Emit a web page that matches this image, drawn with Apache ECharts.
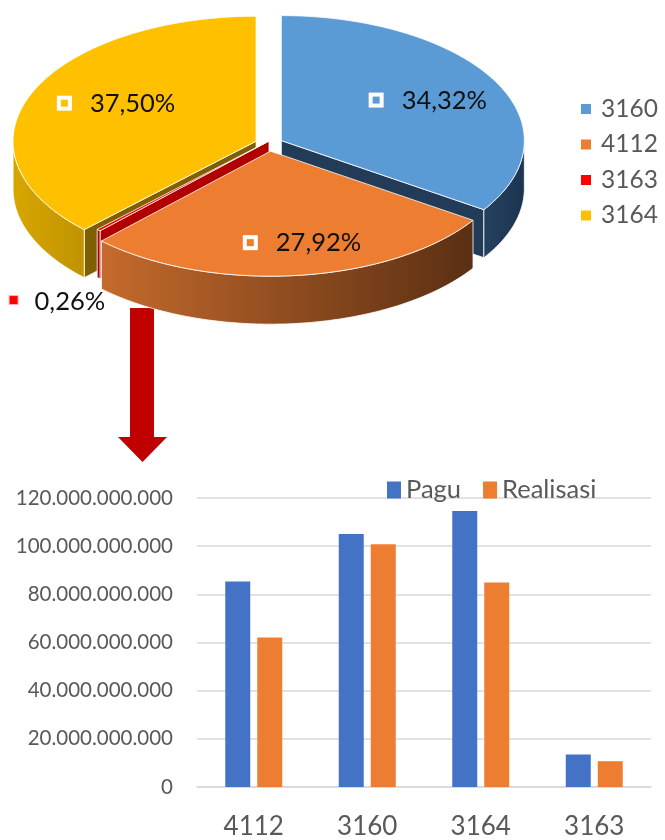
<!DOCTYPE html>
<html><head><meta charset="utf-8">
<script src="https://cdn.jsdelivr.net/npm/echarts@6.0.0/dist/echarts.min.js"></script>
<style>html,body{margin:0;padding:0;background:#fff}#c{width:665px;height:840px}</style>
</head><body><div id="c"></div>
<script>
// ---------- data ----------
const pieCategories = ['3160', '4112', '3163', '3164'];
const pieShares = [34.32, 27.92, 0.26, 37.50];
const pieLabels = ['34,32%', '27,92%', '0,26%', '37,50%'];

const barCategories = ['4112', '3160', '3164', '3163'];
const paguValues = [85.3e9, 105.1e9, 114.6e9, 13.5e9];
const realisasiValues = [62.1e9, 100.8e9, 84.9e9, 10.7e9];
const barSeriesNames = ['Pagu', 'Realisasi'];

const yMin = 0, yMax = 120e9, yStep = 20e9;

// ---------- styles ----------
const FONT = 'Lato, "Open Sans", sans-serif';
const sliceStyle = [
  { top: '#5B9BD5', wall: ['#24415F', '#1C3450'], cut: '#223C58', place: 'inside', explode: 14, lift: 0, nudge: [2, -1] },
  { top: '#ED7D31', wall: ['#C56A2C', '#5A2F13'], cut: '#8A4A1D', place: 'inside', explode: 14, lift: 0, nudge: [11, 10] },
  { top: '#FF0000', wall: ['#C00000', '#A00000'], cut: '#B00000', place: 'outside', explode: 0, lift: -3, nudge: [-85, 70] },
  { top: '#FFC000', wall: ['#D8A600', '#C09300'], cut: '#7F6000', place: 'inside', explode: 14, lift: 0, nudge: [5, -6] }
];
const G = { cx: 269, cy: 144, rx: 243, ry: 125, depth: 48, labelR: 0.66 };

// ---------- pie geometry helpers ----------
const rad = d => d * Math.PI / 180;
const total = pieShares.reduce((a, b) => a + b, 0);
const starts = [], ends = [];
(function () { let acc = 0; pieShares.forEach(v => { starts.push(acc / total * 360); acc += v; ends.push(acc / total * 360); }); })();
const mids = starts.map((s, i) => (s + ends[i]) / 2);
function vertexOf(i) {
  const m = rad(mids[i]), e = sliceStyle[i].explode;
  return [G.cx + e * Math.sin(m), G.cy - e * (G.ry / G.rx) * Math.cos(m) + sliceStyle[i].lift];
}
function arcPt(v, th, dy) { return [v[0] + G.rx * Math.sin(rad(th)), v[1] - G.ry * Math.cos(rad(th)) + (dy || 0)]; }
function arcPts(v, a, b, dy) {
  const pts = []; const n = Math.max(2, Math.ceil(b - a));
  for (let k = 0; k <= n; k++) pts.push(arcPt(v, a + (b - a) * k / n, dy));
  return pts;
}
const order = pieShares.map((_, i) => i).sort((p, q) => (-Math.cos(rad(mids[p]))) - (-Math.cos(rad(mids[q]))));
const rank = []; order.forEach((idx, r) => rank[idx] = r);

function poly(points, fill, z2) {
  return { type: 'polygon', shape: { points: points }, style: { fill: fill, stroke: '#ffffff', lineWidth: 0.8, lineJoin: 'round' }, z2: z2 };
}

function renderPie(params, api) {
  const i = params.dataIndex;
  const st = sliceStyle[i];
  const v = vertexOf(i);
  const a = starts[i], b = ends[i];
  const D = G.depth;
  const base = rank[i] * 10;
  const kids = [];
  if (api.value(0) <= 0) return { type: 'group', children: [] };
  if (Math.sin(rad(a)) < -1e-6) {
    const p = arcPt(v, a);
    kids.push(poly([v, p, [p[0], p[1] + D], [v[0], v[1] + D]], st.cut, base + 1));
  }
  if (Math.sin(rad(b)) > 1e-6) {
    const p = arcPt(v, b);
    kids.push(poly([v, p, [p[0], p[1] + D], [v[0], v[1] + D]], st.cut, base + 1));
  }
  const wa = Math.max(a, 90), wb = Math.min(b, 270);
  if (wb > wa) {
    const top = arcPts(v, wa, wb, 0);
    const bot = arcPts(v, wa, wb, D).reverse();
    const xs = top.map(p => p[0]);
    const grad = new echarts.graphic.LinearGradient(Math.min(...xs), 0, Math.max(...xs), 0,
      [{ offset: 0, color: st.wall[0] }, { offset: 1, color: st.wall[1] }], true);
    kids.push(poly(top.concat(bot), grad, base + 2));
  }
  kids.push(poly([v].concat(arcPts(v, a, b, 0)), st.top, base + 3));

  const m = rad(mids[i]);
  if (st.place === 'inside') {
    const c = [v[0] + G.labelR * G.rx * Math.sin(m) + st.nudge[0], v[1] - G.labelR * G.ry * Math.cos(m) + st.nudge[1]];
    const left = c[0] - 56;
    kids.push({ type: 'rect', shape: { x: left, y: c[1] - 8, width: 15, height: 15 }, style: { fill: '#ffffff' }, z2: 100 });
    kids.push({ type: 'rect', shape: { x: left + 4, y: c[1] - 4, width: 7, height: 7 }, style: { fill: st.top }, z2: 101 });
    kids.push({ type: 'text', x: left + 33, y: c[1], style: { text: pieLabels[i], font: '25.5px ' + FONT, fill: '#111111', align: 'left', verticalAlign: 'middle' }, z2: 102 });
  } else {
    const p = arcPt(v, mids[i]);
    const c = [p[0] + st.nudge[0], p[1] + st.nudge[1]];
    kids.push({ type: 'rect', shape: { x: c[0] - 4.5, y: c[1] - 4.5, width: 9, height: 9 }, style: { fill: st.top, stroke: '#ffb3b3', lineWidth: 1 }, z2: 100 });
    kids.push({ type: 'text', x: c[0] + 21, y: c[1] + 2, style: { text: pieLabels[i], font: '25.5px ' + FONT, fill: '#111111', align: 'left', verticalAlign: 'middle' }, z2: 102 });
  }
  return { type: 'group', children: kids };
}

// ---------- graphic extras: pie legend + arrow ----------
const graphics = [];
pieCategories.forEach((name, k) => {
  const y = 109 + k * 35.5;
  graphics.push({ type: 'rect', left: 581, top: y - 5, shape: { width: 10, height: 10 }, style: { fill: sliceStyle[k].top } });
  graphics.push({ type: 'text', x: 601, y: y, style: { text: name, font: '24.5px ' + FONT, fill: '#595959', align: 'left', verticalAlign: 'middle' } });
});
graphics.push({
  type: 'polygon',
  shape: { points: [[130, 308], [154, 308], [154, 437], [167, 437], [142.5, 462], [118, 437], [130, 437]] },
  style: { fill: '#C00000' }
});

const fmt = v => String(Math.round(v)).replace(/\B(?=(\d{3})+(?!\d))/g, '.');

const option = {
  animation: false,
  backgroundColor: '#ffffff',
  graphic: graphics,
  legend: {
    data: barSeriesNames, left: 382, top: 472, icon: 'rect',
    itemWidth: 14, itemHeight: 17, itemGap: 22,
    textStyle: { fontSize: 25.5, color: '#595959', fontFamily: FONT }
  },
  grid: { left: 197, right: 14, top: 498, bottom: 52.5 },
  xAxis: {
    type: 'category', data: barCategories,
    axisLine: { lineStyle: { color: '#D9D9D9', width: 1.5 } },
    axisTick: { show: false },
    axisLabel: { color: '#595959', fontSize: 26, fontFamily: FONT, margin: 27 }
  },
  yAxis: {
    type: 'value', min: yMin, max: yMax, interval: yStep,
    axisLine: { show: false }, axisTick: { show: false },
    splitLine: { lineStyle: { color: '#D9D9D9', width: 1.5 } },
    axisLabel: { color: '#595959', fontSize: 20.5, fontFamily: FONT, margin: 24, formatter: fmt }
  },
  series: [
    { type: 'bar', name: barSeriesNames[0], data: paguValues, barWidth: 25, barGap: '28%', itemStyle: { color: '#4472C4' } },
    { type: 'bar', name: barSeriesNames[1], data: realisasiValues, barWidth: 25, barGap: '28%', itemStyle: { color: '#ED7D31' } },
    { type: 'custom', name: 'pie', coordinateSystem: 'none', silent: true, data: pieShares.map(v => [v]), renderItem: renderPie }
  ]
};
const chart = echarts.init(document.getElementById('c'), null, { renderer: 'canvas' });
chart.setOption(option);
</script>
</body></html>
